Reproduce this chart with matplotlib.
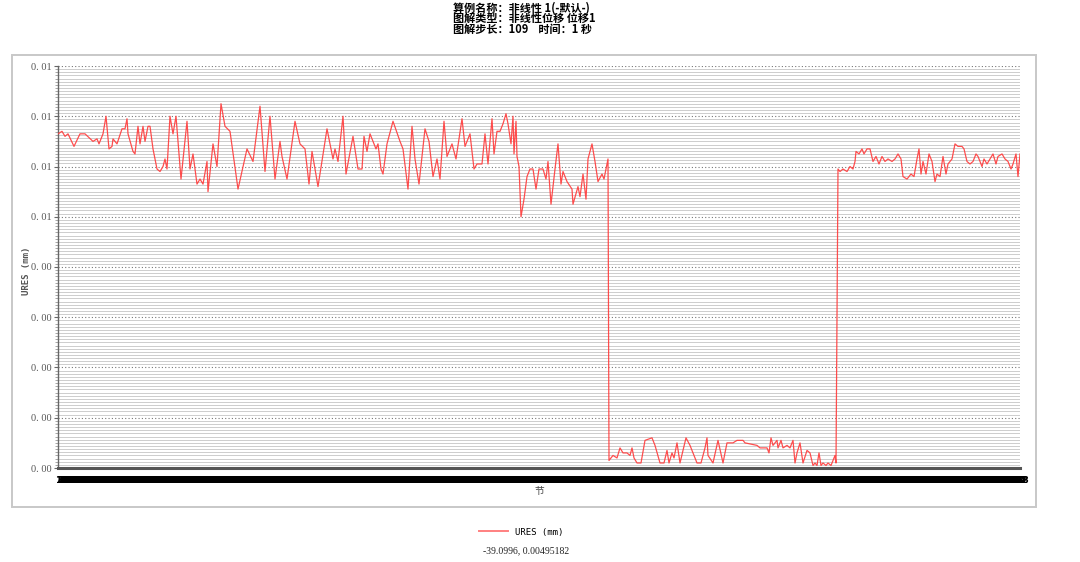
import numpy as np
import matplotlib
matplotlib.use("Agg")
import matplotlib.pyplot as plt
from matplotlib.ticker import FixedLocator, FuncFormatter
from matplotlib.patches import Rectangle

# node numbers along the model and URES values (units of 1e-6 mm)
nodes_a = [0, 4, 7, 10, 16, 22, 27, 35, 39, 41, 45, 48, 51, 54, 55, 59, 64, 67, 69, 70,
           75, 77, 80, 82, 85, 87, 90, 92, 95, 99, 102, 105, 107, 109, 112, 115, 118, 123,
           129, 132, 135, 139, 142, 145, 149, 150, 155, 159, 163, 167, 172, 180, 189, 195,
           202, 207, 212, 217, 222, 224, 229, 237, 242]
ures_a = [5043, 5044, 5042, 5043, 5038, 5043, 5043, 5040, 5041, 5039, 5043, 5050, 5037, 5038,
          5041, 5039, 5045, 5045, 5049, 5043, 5036, 5035, 5046, 5039, 5046, 5040, 5046, 5046,
          5037, 5029, 5028, 5030, 5033, 5029, 5050, 5043, 5050, 5025, 5048, 5029, 5035, 5023,
          5025, 5023, 5032, 5020, 5039, 5030, 5055, 5046, 5044, 5021, 5037, 5032, 5054, 5028,
          5050, 5025, 5040, 5034, 5025, 5048, 5039]

nodes_b = [247, 251, 254, 260, 269, 275, 277, 280, 285, 288, 295, 300, 304, 306, 309, 312,
           315, 318, 320, 323, 325, 329, 335, 342, 345, 350, 354, 357, 361, 367, 371, 375,
           379, 382, 386, 389, 394, 398, 404, 407, 412, 416, 419, 424, 427, 430, 434, 436,
           439, 442, 445, 448, 450, 453, 455, 456, 458, 459, 461, 463, 466, 469, 472, 475,
           478, 481, 485, 488, 490, 493, 497, 500, 503, 505, 509, 514, 515, 520, 522, 525,
           528, 530, 534, 537, 540, 544, 546, 548, 550]
ures_b = [5037, 5023, 5036, 5022, 5045, 5033, 5037, 5032, 5050, 5027, 5042, 5029, 5029, 5042,
          5036, 5043, 5040, 5037, 5039, 5029, 5027, 5039, 5048, 5040, 5037, 5021, 5046, 5033,
          5023, 5045, 5040, 5026, 5033, 5025, 5048, 5034, 5039, 5033, 5049, 5038, 5043, 5029,
          5031, 5031, 5043, 5031, 5049, 5035, 5044, 5044, 5047, 5051, 5047, 5039, 5050, 5035,
          5048, 5034, 5030, 5010, 5017, 5026, 5029, 5029, 5021, 5029, 5029, 5025, 5032, 5015,
          5029, 5039, 5023, 5028, 5024, 5021, 5015, 5022, 5018, 5027, 5017, 5033, 5039, 5032,
          5024, 5027, 5025, 5029, 5033]

nodes_c = [551, 555, 559, 562, 565, 569, 572, 574, 576, 579, 583, 587, 594, 597, 602, 606,
           609, 611, 614, 616, 619, 622, 628, 632, 639, 643, 647, 649, 650, 655, 660, 665,
           669, 675, 679, 685, 687, 699, 702, 709, 711, 713, 715, 719, 720, 723, 725, 729,
           732, 735, 737, 739, 742, 745, 749, 752, 755, 757, 759, 761, 763, 765, 768, 770,
           773, 775, 777, 778]
ures_c = [4913, 4915, 4914, 4918, 4916, 4916, 4915, 4918, 4914, 4912, 4912, 4921, 4922, 4919,
          4912, 4912, 4917, 4912, 4916, 4914, 4920, 4912, 4922, 4919, 4912, 4912, 4918, 4922,
          4915, 4912, 4921, 4912, 4920, 4920, 4921, 4921, 4920, 4919, 4918, 4918, 4916, 4922,
          4919, 4921, 4918, 4921, 4918, 4919, 4918, 4921, 4912, 4916, 4920, 4912, 4917, 4916,
          4911, 4912, 4911, 4916, 4911, 4912, 4911, 4912, 4911, 4913, 4915, 4912]

nodes_d = [780, 782, 785, 789, 792, 795, 797, 798, 801, 804, 806, 809, 812, 815, 818, 821,
           824, 827, 830, 834, 837, 840, 843, 845, 849, 853, 856, 859, 861, 863, 865, 868,
           871, 874, 877, 879, 882, 885, 888, 890, 894, 897, 900, 904, 906, 909, 912, 915,
           918, 920, 924, 926, 929, 932, 935, 938, 940, 944, 947, 950, 953, 955, 958, 960, 962]
ures_d = [5029, 5028, 5029, 5028, 5030, 5029, 5032, 5036, 5035, 5037, 5035, 5037, 5037, 5032,
          5034, 5031, 5034, 5032, 5033, 5032, 5033, 5035, 5033, 5026, 5025, 5027, 5026, 5033,
          5037, 5027, 5032, 5027, 5035, 5032, 5024, 5027, 5026, 5034, 5027, 5031, 5033, 5039,
          5038, 5038, 5037, 5032, 5031, 5032, 5035, 5034, 5030, 5033, 5031, 5033, 5035, 5031,
          5034, 5035, 5033, 5032, 5029, 5031, 5035, 5026, 5035]

nodes = np.array(nodes_a + nodes_b + nodes_c + nodes_d)
ures = np.array(ures_a + ures_b + ures_c + ures_d) * 1e-6

title_lines = ["算例名称：非线性 1(-默认-)",
               "图解类型：非线性位移 位移1",
               "图解步长：109    时间：1 秒"]
probe_text = "-39.0996, 0.00495182"

y_min, y_max = 0.00491, 0.00507
n_nodes = 962

W, H = 1080, 562
fig = plt.figure(figsize=(W / 100, H / 100), dpi=100)
fig.patch.set_facecolor("white")

# light frame round the chart panel
fig.patches.append(Rectangle((12 / W, 1 - 507 / H), 1024 / W, 452 / H,
                             transform=fig.transFigure, fill=False,
                             edgecolor="#c8c8c8", linewidth=1.4))

ax = fig.add_axes([58 / W, 1 - 468 / H, 962 / W, 402 / H])
ax.set_xlim(0, n_nodes)
ax.set_ylim(y_min, y_max)

major = np.linspace(y_min, y_max, 9)
minor = np.linspace(y_min, y_max, 8 * 16 + 1)
ax.yaxis.set_major_locator(FixedLocator(major))
ax.yaxis.set_minor_locator(FixedLocator(minor))
ax.yaxis.set_major_formatter(FuncFormatter(lambda v, p: f"{v:.2f}".replace(".", ". ")))
ax.grid(axis="y", which="minor", color="#cdcdcd", linewidth=0.7)
ax.grid(axis="y", which="major", color="#777777", linewidth=0.8, linestyle=(0, (1, 2)))

# white vertical breaks through the dense horizontal grid
for xv in np.arange(0, n_nodes, 12.5):
    ax.axvline(xv, color="white", linewidth=1.3, zorder=1.5)

ax.plot(nodes, ures, color="#ff3b3b", linewidth=0.9, alpha=0.9, zorder=3)

# x tick labels for every node, they run together into a solid dark band
xt = np.arange(0, n_nodes + 1, 1)
ax.set_xticks(xt)
ax.set_xticklabels([str(v + 1) for v in xt], fontsize=6.5, fontweight="bold",
                   family="DejaVu Sans")
ax.tick_params(axis="x", length=0, pad=5.5, colors="black")
ax.tick_params(axis="y", which="major", length=3, color="#666666", labelsize=7.5,
               labelcolor="#555555", pad=1.5)
ax.tick_params(axis="y", which="minor", length=2.5, color="#999999")
for lab in ax.get_yticklabels():
    lab.set_family("Liberation Serif")

for s in ["top", "right"]:
    ax.spines[s].set_visible(False)
ax.spines["left"].set_color("#666666")
ax.spines["left"].set_linewidth(1.0)
ax.spines["bottom"].set_color("#555555")
ax.spines["bottom"].set_linewidth(2.2)

for i, line in enumerate(title_lines):
    fig.text(453 / W, 1 - (8 + 10.5 * i) / H, line, ha="left", va="center",
             fontsize=8, fontweight="bold", family=["Noto Sans CJK SC", "DejaVu Sans"])

fig.text(27 / W, 1 - 271 / H, "URES (mm)", rotation=90, ha="center", va="center",
         fontsize=6.5, fontweight="bold", family="DejaVu Sans Mono", color="#555555")
fig.text(539 / W, 1 - 491 / H, "节", ha="center", va="center", fontsize=7,
         family=["Noto Sans CJK SC", "DejaVu Sans"], color="#444444")

leg = ax.legend(["URES (mm)"], loc="center", bbox_to_anchor=(521 / W, 1 - 532 / H),
                bbox_transform=fig.transFigure, frameon=False,
                handlelength=3.2, handletextpad=0.8,
                prop={"family": "DejaVu Sans Mono", "size": 6.5})
leg.get_lines()[0].set_color("#ff8080")
leg.get_lines()[0].set_linewidth(1.4)

fig.text(526 / W, 1 - 551 / H, probe_text, ha="center", va="center", fontsize=7,
         family="Liberation Serif", color="#222222")

fig.savefig("out.png", dpi=100)
